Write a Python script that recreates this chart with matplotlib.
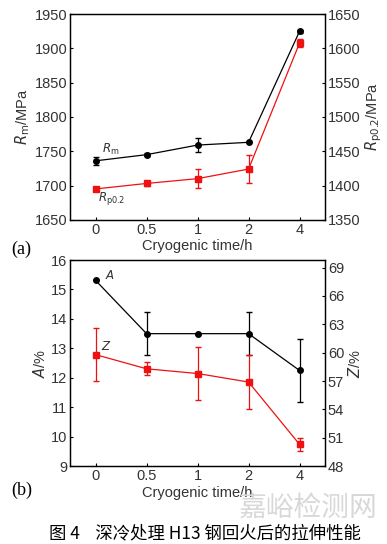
import numpy as np
import matplotlib.pyplot as plt

plt.rcParams['font.family'] = ['Liberation Sans', 'DejaVu Sans']

# categorical cryogenic times
times = ['0', '0.5', '1', '2', '4']

# panel (a): tensile / yield strength
Rm = [1736, 1745, 1759, 1763, 1925]
Rm_err = [6, 2, 10, 0, 2]
Rp = [1395, 1403, 1410, 1424, 1608]
Rp_err = [3, 4, 14, 20, 6]

# panel (b): elongation / reduction of area
A = [15.31, 13.5, 13.5, 13.5, 12.25]
A_err = [0, 0.73, 0, 0.73, 1.06]
Z = [59.8, 58.3, 57.8, 56.9, 50.3]
Z_err = [2.8, 0.7, 2.85, 2.85, 0.7]

x = np.arange(len(times))
fs = 10.5
tick_col = '#333333'

fig = plt.figure(figsize=(3.87, 5.44), dpi=100)
ax1 = fig.add_axes([0.181, 0.596, 0.659, 0.378])
ax2 = fig.add_axes([0.181, 0.143, 0.659, 0.379])


def style(ax):
    ax.tick_params(direction='in', length=2.5, width=0.8, labelsize=fs,
                   colors='black', labelcolor=tick_col, pad=2)
    for s in ax.spines.values():
        s.set_linewidth(0.9)


# ---- (a)
ax1.errorbar(x, Rm, yerr=Rm_err, color='black', marker='o', ms=4, lw=0.9,
             capsize=2.5, elinewidth=0.9)
ax1.set_ylim(1650, 1950)
ax1.set_yticks(np.arange(1650, 1951, 50))
ax1.set_xlim(-0.5, 4.5)
ax1.set_xticks(x)
ax1.set_xticklabels(times)
ax1.set_xlabel('Cryogenic time/h', fontsize=fs, color=tick_col, labelpad=2)
ax1.set_ylabel(r'$R_\mathrm{m}$/MPa', fontsize=fs, color=tick_col, labelpad=2)
ax1.text(0.12, 1747, r'$R_\mathrm{m}$', fontsize=8.5, color=tick_col)
style(ax1)

ax1r = ax1.twinx()
ax1r.errorbar(x, Rp, yerr=Rp_err, color='#ee1111', marker='s', ms=4, lw=0.9,
              capsize=2.5, elinewidth=0.9)
ax1r.set_ylim(1350, 1650)
ax1r.set_yticks(np.arange(1350, 1651, 50))
ax1r.set_ylabel(r'$R_\mathrm{p0.2}$/MPa', fontsize=fs, color=tick_col, labelpad=2)
ax1r.text(0.05, 1377, r'$R_\mathrm{p0.2}$', fontsize=8.5, color=tick_col)
style(ax1r)
ax1.tick_params(axis='y', right=False)

# ---- (b)
ax2.errorbar(x, A, yerr=A_err, color='black', marker='o', ms=4, lw=0.9,
             capsize=2.5, elinewidth=0.9)
ax2.set_ylim(9, 16)
ax2.set_yticks(np.arange(9, 17, 1))
ax2.set_xlim(-0.5, 4.5)
ax2.set_xticks(x)
ax2.set_xticklabels(times)
ax2.set_xlabel('Cryogenic time/h', fontsize=fs, color=tick_col, labelpad=2)
ax2.set_ylabel(r'$A$/%', fontsize=fs, color=tick_col, labelpad=2)
ax2.text(0.18, 15.35, r'$A$', fontsize=8.5, color=tick_col)
style(ax2)

ax2r = ax2.twinx()
ax2r.errorbar(x, Z, yerr=Z_err, color='#ee1111', marker='s', ms=4, lw=0.9,
              capsize=2.5, elinewidth=0.9)
ax2r.set_ylim(48, 69.8)
ax2r.set_yticks(np.arange(48, 70, 3))
ax2r.set_ylabel(r'$Z$/%', fontsize=fs, color=tick_col, labelpad=2)
ax2r.text(0.1, 60.3, r'$Z$', fontsize=8.5, color=tick_col)
style(ax2r)

fig.text(0.03, 0.533, '(a)', fontsize=13, family='Liberation Serif')
fig.text(0.03, 0.090, '(b)', fontsize=13, family='Liberation Serif')

fig.text(0.975, 0.052, '嘉峪检测网', fontsize=20, color='#d8d8d8', ha='right',
         family=['Noto Sans CJK SC', 'DejaVu Sans'])
fig.text(0.53, 0.01, '图 4    深冷处理 H13 钢回火后的拉伸性能', fontsize=12.5,
         ha='center', family=['Noto Sans CJK SC', 'DejaVu Sans'])

fig.savefig('out.png', dpi=100)
